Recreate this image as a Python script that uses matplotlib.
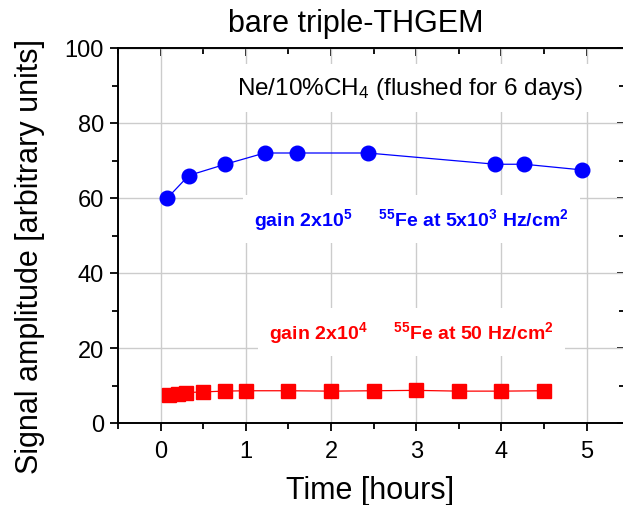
import matplotlib
matplotlib.use("Agg")
import matplotlib.pyplot as plt
from matplotlib.ticker import MultipleLocator

plt.rcParams["font.family"] = ["Liberation Sans", "DejaVu Sans"]
plt.rcParams["mathtext.fontset"] = "custom"
plt.rcParams["mathtext.rm"] = "Liberation Sans"
plt.rcParams["mathtext.it"] = "Liberation Sans:italic"
plt.rcParams["mathtext.bf"] = "Liberation Sans:bold"

# gain 2x10^5, 55Fe at 5x10^3 Hz/cm^2
time_high = [0.08, 0.33, 0.76, 1.22, 1.60, 2.43, 3.93, 4.27, 4.94]
amp_high = [60.0, 66.0, 69.0, 72.0, 72.0, 72.0, 69.0, 69.0, 67.5]

# gain 2x10^4, 55Fe at 50 Hz/cm^2
time_low = [0.1, 0.2, 0.3, 0.5, 0.75, 1.0, 1.5, 2.0, 2.5, 3.0, 3.5, 4.0, 4.5]
amp_low = [7.5, 7.8, 8.1, 8.3, 8.5, 8.6, 8.6, 8.5, 8.6, 8.7, 8.5, 8.5, 8.6]

x_ticks = [0, 1, 2, 3, 4, 5]
y_ticks = [0, 20, 40, 60, 80, 100]

fig = plt.figure(figsize=(6.23, 5.06), dpi=100)
ax = fig.add_axes([118 / 623, 1 - 424 / 506, (625 - 118) / 623, (424 - 49) / 506])

ax.plot(time_high, amp_high, color="#0000ff", lw=0.9, marker="o", ms=10.5,
        mec="#0000ff", mfc="#0000ff", zorder=4)
ax.plot(time_low, amp_low, color="#ff0000", lw=0.9, marker="s", ms=10,
        mec="#ff0000", mfc="#ff0000", zorder=4)

ax.set_xlim(-0.5, 5.45)
ax.set_ylim(0, 100)
ax.set_xticks(x_ticks)
ax.set_yticks(y_ticks)
ax.xaxis.set_minor_locator(MultipleLocator(0.5))
ax.yaxis.set_minor_locator(MultipleLocator(10))
ax.grid(True, which="major", color="#cccccc", lw=1.0, zorder=0)
ax.set_axisbelow(True)

ax.tick_params(which="both", direction="out", width=1.3, labelsize=17,
               colors="black")
ax.tick_params(axis="x", pad=6)
ax.tick_params(axis="y", pad=4)
ax.tick_params(which="major", length=6)
ax.tick_params(which="minor", length=4)
for side in ("left", "bottom", "top", "right"):
    ax.spines[side].set_linewidth(1.4)

# inward ticks on the top and right edges
top = ax.secondary_xaxis("top")
top.set_xticks(x_ticks)
top.xaxis.set_minor_locator(MultipleLocator(0.5))
top.tick_params(which="both", direction="in", labeltop=False, width=1.3)
top.tick_params(which="major", length=6)
top.tick_params(which="minor", length=4)
right = ax.secondary_yaxis("right")
right.set_yticks(y_ticks)
right.yaxis.set_minor_locator(MultipleLocator(10))
right.tick_params(which="both", direction="in", labelright=False, width=1.3)
right.tick_params(which="major", length=6)
right.tick_params(which="minor", length=4)

box = dict(facecolor="white", edgecolor="none", pad=8)
ax.text(2.93, 89.3, r"Ne/10%CH$_4$ (flushed for 6 days)", fontsize=17.5,
        ha="center", va="center", bbox=box, zorder=3)
ax.text(2.94, 54.3,
        r"$\mathbf{gain\ 2x10^5}$" + "     " + r"$\mathbf{^{55}Fe\ at\ 5x10^3\ Hz/cm^2}$",
        fontsize=14, color="#0000ff", ha="center", va="center", bbox=box, zorder=3)
ax.text(2.94, 24.3,
        r"$\mathbf{gain\ 2x10^4}$" + "     " + r"$\mathbf{^{55}Fe\ at\ 50\ Hz/cm^2}$",
        fontsize=14, color="#ff0000", ha="center", va="center", bbox=box, zorder=3)

fig.text(356 / 623, 1 - 24 / 506, "bare triple-THGEM", fontsize=22,
         ha="center", va="center")
fig.text(370 / 623, 1 - 491 / 506, "Time [hours]", fontsize=22,
         ha="center", va="center")
fig.text(30 / 623, 1 - 257 / 506, "Signal amplitude [arbitrary units]",
         fontsize=22, rotation=90, ha="center", va="center")

fig.savefig("out.png", dpi=100)
